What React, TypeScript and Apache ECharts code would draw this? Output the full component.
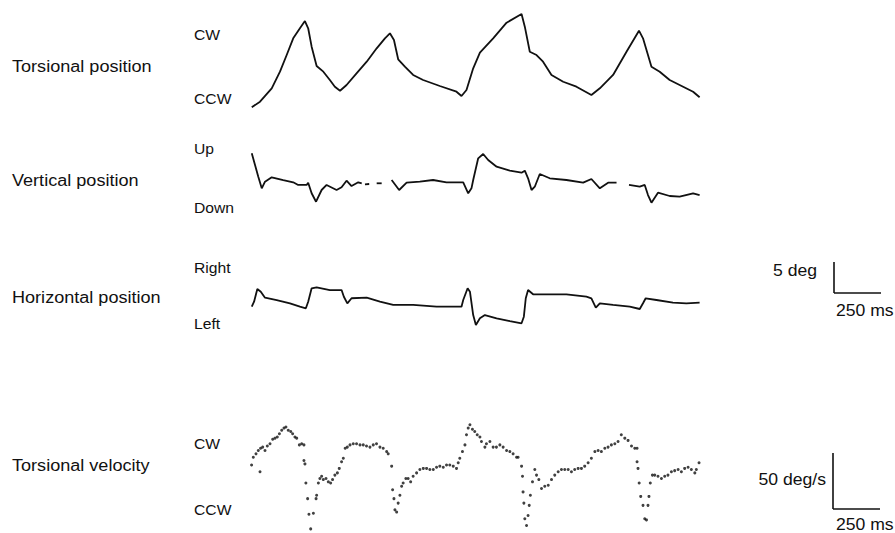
import React, { useEffect, useRef } from "react";
import * as echarts from "echarts";

// time in ms, position in deg, velocity in deg/s (baseline-relative)
const torsionalPosition: number[][] = [
  [4, 0.44], [47, 1.34], [108, 3.5], [151, 6.18], [186, 8.87], [220, 11.56], [255, 13.18], [281, 14.35],
  [298, 13.18], [316, 10.21], [342, 7.1], [377, 6.18], [411, 4.84], [437, 3.76], [464, 3.11], [498, 4.03],
  [550, 5.92], [603, 7.79], [655, 9.95], [698, 11.56], [724, 12.37], [745, 11.29], [767, 8.18], [802, 6.98],
  [845, 5.65], [897, 4.84], [984, 3.87], [1071, 2.95], [1097, 2.26], [1123, 3.23], [1158, 6.73], [1193, 9.24],
  [1262, 11.56], [1332, 14.08], [1410, 15.48], [1427, 13.44], [1453, 9.4], [1488, 8.87], [1522, 7.79],
  [1566, 5.65], [1627, 4.56], [1696, 3.76], [1774, 2.42], [1818, 3.5], [1887, 5.65], [1957, 9.4],
  [2022, 12.79], [2043, 11.56], [2087, 6.98], [2130, 6.18], [2182, 4.84], [2252, 3.76], [2304, 2.95], [2338, 2.05],
];

const verticalPosition: (number[] | null)[] = [
  [4, 10.76], [21, 8.87], [38, 6.98], [56, 5.11], [73, 6.18], [108, 6.89], [168, 6.45], [220, 6.08],
  [246, 5.65], [290, 5.65], [298, 6.02], [316, 4.31], [339, 2.95], [368, 4.84], [394, 5.65], [446, 4.84],
  [472, 5.27], [498, 6.34], [524, 5.48], [559, 6.08], [577, 5.92],
  null,
  [594, 5.76], [616, 5.81],
  null,
  [655, 5.92], [681, 5.92],
  null,
  [733, 6.45], [772, 4.84], [811, 6.02], [880, 6.18], [949, 6.45], [1019, 6.08], [1106, 6.08], [1132, 4.31],
  [1149, 5.11], [1158, 6.45], [1184, 9.95], [1210, 10.65], [1236, 9.68], [1280, 8.6], [1349, 7.95],
  [1410, 7.63], [1427, 7.95], [1444, 6.73], [1462, 4.84], [1479, 5.37], [1505, 7.42], [1557, 6.73],
  [1644, 6.45], [1731, 6.02], [1774, 6.61], [1818, 5.11], [1861, 6.02], [1905, 6.02],
  null,
  [1970, 5.65], [2026, 5.37], [2052, 5.65], [2069, 4.03], [2087, 2.79], [2121, 4.4], [2182, 3.87],
  [2234, 3.76], [2304, 4.31], [2338, 4.03],
];

const horizontalPosition: number[][] = [
  [4, 5.37], [16, 6.18], [33, 8.23], [51, 7.79], [73, 6.82], [134, 6.45], [203, 5.92], [255, 5.37],
  [286, 5.11], [298, 6.18], [316, 8.34], [342, 8.5], [411, 8.06], [472, 8.06], [484, 6.98], [502, 5.92],
  [524, 6.73], [603, 6.82], [672, 6.18], [741, 5.65], [845, 5.65], [967, 5.37], [1097, 5.37], [1106, 6.45],
  [1129, 8.34], [1141, 7.79], [1158, 4.03], [1172, 2.42], [1193, 3.5], [1219, 4.03], [1280, 3.5],
  [1349, 3.06], [1410, 2.69], [1422, 3.76], [1432, 6.73], [1444, 8.06], [1470, 7.37], [1540, 7.37],
  [1644, 7.37], [1748, 6.98], [1774, 6.73], [1797, 5.21], [1818, 5.92], [1887, 5.65], [1974, 5.37],
  [2026, 5.0], [2043, 5.92], [2057, 6.73], [2113, 6.45], [2199, 6.02], [2269, 5.92], [2338, 6.02],
];

const torsionalVelocity: number[][] = [
  [3, 58], [12, 65], [26, 68], [38, 71], [47, 52], [50, 73], [61, 74], [73, 71], [85, 75], [99, 77],
  [113, 81], [125, 82], [137, 83], [148, 86], [160, 89], [172, 91], [182, 92], [194, 89], [207, 88],
  [217, 86], [229, 83], [238, 82], [252, 76], [264, 77], [276, 76], [276, 62], [281, 59], [286, 42],
  [295, 28], [302, 14], [311, 1], [325, 15], [339, 28], [342, 31], [351, 42], [359, 46], [368, 48],
  [377, 45], [391, 46], [403, 43], [415, 42], [425, 45], [437, 49], [450, 51], [460, 55], [472, 61],
  [481, 64], [491, 73], [502, 74], [516, 76], [533, 77], [550, 77], [568, 76], [585, 76], [602, 75],
  [620, 74], [637, 76], [654, 77], [672, 74], [689, 73], [707, 70], [715, 68], [733, 57], [738, 36],
  [745, 28], [750, 18], [759, 16], [767, 24], [776, 31], [785, 39], [793, 42], [807, 46], [819, 46],
  [832, 43], [845, 48], [863, 51], [880, 54], [898, 55], [915, 55], [932, 54], [950, 54], [967, 56],
  [984, 57], [1002, 56], [1019, 58], [1036, 58], [1054, 57], [1071, 55], [1080, 60], [1088, 64],
  [1102, 70], [1115, 76], [1123, 85], [1132, 91], [1141, 94], [1154, 90], [1166, 88], [1179, 85],
  [1193, 83], [1201, 79], [1219, 74], [1227, 77], [1245, 79], [1262, 74], [1279, 74], [1297, 76],
  [1314, 74], [1332, 71], [1349, 70], [1366, 68], [1384, 65], [1392, 65], [1410, 57], [1415, 48],
  [1418, 34], [1422, 24], [1427, 10], [1436, 4], [1444, 13], [1450, 22], [1456, 31], [1467, 43],
  [1479, 54], [1488, 49], [1500, 45], [1514, 37], [1531, 39], [1549, 40], [1566, 45], [1583, 49],
  [1601, 52], [1618, 54], [1635, 54], [1653, 54], [1670, 52], [1687, 54], [1705, 55], [1722, 55],
  [1739, 57], [1757, 60], [1774, 64], [1792, 70], [1809, 71], [1826, 70], [1844, 73], [1861, 74],
  [1878, 76], [1896, 77], [1913, 79], [1930, 85], [1948, 82], [1965, 80], [1983, 75], [2000, 73],
  [2012, 73], [2012, 61], [2017, 55], [2023, 42], [2031, 30], [2043, 22], [2052, 10], [2061, 9],
  [2069, 22], [2074, 30], [2081, 42], [2092, 49], [2104, 49], [2121, 48], [2139, 46], [2156, 48],
  [2173, 49], [2191, 52], [2208, 53], [2226, 54], [2243, 52], [2260, 55], [2278, 56], [2295, 54],
  [2313, 51], [2321, 54], [2335, 60],
];

const rowLabels = ["Torsional position", "Vertical position", "Horizontal position", "Torsional velocity"];
const polarityLabels = [["CW", "CCW"], ["Up", "Down"], ["Right", "Left"], ["CW", "CCW"]];
const scaleLabels = ["5 deg", "250 ms", "50 deg/s", "250 ms"];

const FONT = "'Liberation Sans', Arial, Helvetica, sans-serif";
const INK = "#111";

function splitSegments(arr: (number[] | null)[]): number[][][] {
  const out: number[][][] = [];
  let cur: number[][] = [];
  arr.forEach((p) => {
    if (p === null) {
      if (cur.length) out.push(cur);
      cur = [];
    } else cur.push(p);
  });
  if (cur.length) out.push(cur);
  return out;
}

export default function App() {
  const ref = useRef<HTMLDivElement>(null);
  useEffect(() => {
    if (!ref.current) return;
    const chart = echarts.init(ref.current, undefined, { renderer: "svg" });

    const grids = [
      { left: 251, top: 10, width: 449, height: 100 },
      { left: 251, top: 140, width: 449, height: 80 },
      { left: 251, top: 260, width: 449, height: 80 },
      { left: 251, top: 415, width: 449, height: 115 },
    ];
    const yMax = [100 / 6.2, 80 / 6.2, 80 / 6.2, 115 / 1.12];

    const lineStyle = { color: INK, width: 1.8 };
    const series: any[] = [];
    series.push({
      type: "line", xAxisIndex: 0, yAxisIndex: 0, data: torsionalPosition,
      showSymbol: false, lineStyle, silent: true,
    });
    splitSegments(verticalPosition).forEach((seg) =>
      series.push({ type: "line", xAxisIndex: 1, yAxisIndex: 1, data: seg, showSymbol: false, lineStyle, silent: true })
    );
    series.push({
      type: "line", xAxisIndex: 2, yAxisIndex: 2, data: horizontalPosition,
      showSymbol: false, lineStyle, silent: true,
    });
    series.push({
      type: "scatter", xAxisIndex: 3, yAxisIndex: 3, data: torsionalVelocity,
      symbolSize: 3, itemStyle: { color: INK }, silent: true,
    });

    const txt = (text: string, x: number, y: number, size: number, sx: number, align = "left") => ({
      type: "text", x, y, scaleX: sx, silent: true,
      style: { text, x: 0, y: 0, fill: INK, font: `${size}px ${FONT}`, align, verticalAlign: "middle" },
    });
    const rowY = [67, 181, 298, 466];
    const polY = [[35, 99], [149, 208], [268.5, 324.5], [444, 510]];
    const graphic: any[] = [];
    rowLabels.forEach((l, i) => graphic.push(txt(l, 12, rowY[i], 16, 1.13)));
    polarityLabels.forEach((pair, i) => {
      graphic.push(txt(pair[0], 194, polY[i][0], 14, 1.12));
      graphic.push(txt(pair[1], 194, polY[i][1], 14, 1.12));
    });
    // scale bars
    const bar = (x: number, y1: number, y2: number, x2: number) => [
      { type: "line", silent: true, shape: { x1: x, y1, x2: x, y2 }, style: { stroke: INK, lineWidth: 1.6 } },
      { type: "line", silent: true, shape: { x1: x, y1: y2, x2, y2 }, style: { stroke: INK, lineWidth: 1.6 } },
    ];
    graphic.push(...bar(834, 262, 293, 881));
    graphic.push(...bar(833, 453, 509, 880));
    graphic.push(txt(scaleLabels[0], 817, 271, 16, 1.1, "right"));
    graphic.push(txt(scaleLabels[1], 836, 311, 16, 1.1));
    graphic.push(txt(scaleLabels[2], 826, 480, 16, 1.1, "right"));
    graphic.push(txt(scaleLabels[3], 836, 525, 16, 1.1));

    chart.setOption({
      animation: false,
      backgroundColor: "#fff",
      grid: grids,
      xAxis: grids.map((_, i) => ({ type: "value", gridIndex: i, min: 0, max: 2340, show: false })),
      yAxis: grids.map((_, i) => ({ type: "value", gridIndex: i, min: 0, max: yMax[i], show: false })),
      series,
      graphic,
    });
    return () => chart.dispose();
  }, []);
  return (
    <div
      ref={ref}
      style={{ position: "absolute", left: 0, top: 0, width: 895, height: 533, background: "#fff" }}
    />
  );
}
